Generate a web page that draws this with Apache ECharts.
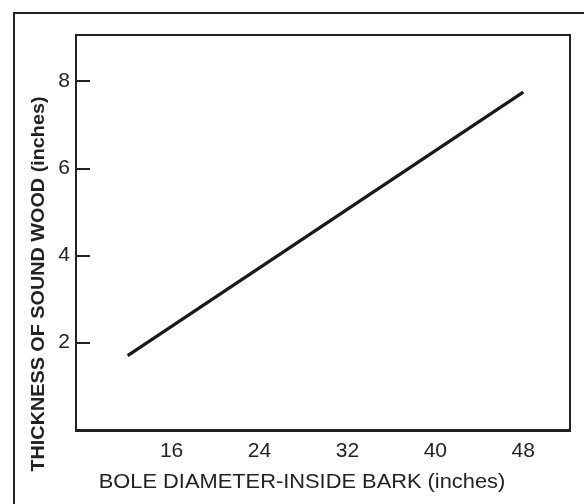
<!DOCTYPE html>
<html>
<head>
<meta charset="utf-8">
<script src="https://cdn.jsdelivr.net/npm/echarts@6/dist/echarts.min.js"></script>
<style>
html,body{margin:0;padding:0;background:#fff;}
#chart{width:584px;height:504px;}
</style>
</head>
<body>
<div id="chart"></div>
<script>
// Data
const xValues = [12, 48];          // bole diameter inside bark (inches)
const yValues = [1.7, 7.75];       // thickness of sound wood (inches)
const xTickLabels = [16, 24, 32, 40, 48];
const yTickLabels = [2, 4, 6, 8];
const xTitle = 'BOLE DIAMETER-INSIDE BARK (inches)';
const yTitle = 'THICKNESS OF SOUND WOOD (inches)';

const FONT = '"Liberation Sans", Arial, Helvetica, sans-serif';
const INK = '#222';

const chart = echarts.init(document.getElementById('chart'), null, {renderer: 'canvas'});
chart.setOption({
  animation: false,
  backgroundColor: '#fff',
  grid: {
    left: 76, right: 14, top: 35, bottom: 73,
    show: true, borderColor: INK, borderWidth: 2, backgroundColor: 'transparent'
  },
  xAxis: {
    type: 'value', min: 7.3, max: 52.25,
    axisLine: {show: true, lineStyle: {color: INK, width: 2}},
    axisTick: {show: false},
    splitLine: {show: false},
    axisLabel: {
      customValues: xTickLabels, color: INK, fontSize: 21, fontFamily: FONT, margin: 10
    }
  },
  yAxis: {
    type: 'value', min: -0.03, max: 9.06,
    axisLine: {show: true, lineStyle: {color: INK, width: 2}},
    axisTick: {show: true, inside: true, length: 14, customValues: yTickLabels, lineStyle: {color: INK, width: 2}},
    splitLine: {show: false},
    axisLabel: {
      customValues: yTickLabels, color: INK, fontSize: 21, fontFamily: FONT, margin: 6
    }
  },
  series: [{
    type: 'line',
    data: xValues.map((x, i) => [x, yValues[i]]),
    symbol: 'none',
    lineStyle: {color: '#1a1a1a', width: 3.2, cap: 'butt'}
  }],
  graphic: [
    {
      type: 'rect', z: -10,
      shape: {x: 14, y: 13, width: 640, height: 560},
      style: {fill: 'none', stroke: INK, lineWidth: 2}
    },
    {
      type: 'text',
      x: 302, y: 482,
      scaleX: 1.04,
      style: {
        text: xTitle, fill: INK, font: '21px ' + FONT,
        align: 'center', verticalAlign: 'middle',
        textAlign: 'center', textVerticalAlign: 'middle'
      }
    },
    {
      type: 'text',
      x: 39, y: 284,
      rotation: Math.PI / 2,
      scaleX: 1.1,
      style: {
        text: yTitle, fill: INK, font: 'bold 18px ' + FONT,
        align: 'center', verticalAlign: 'middle',
        textAlign: 'center', textVerticalAlign: 'middle'
      }
    }
  ]
});
</script>
</body>
</html>
